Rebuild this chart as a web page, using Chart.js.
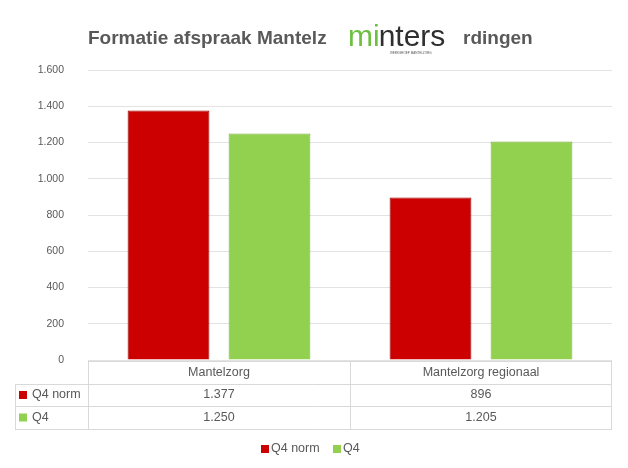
<!DOCTYPE html>
<html>
<head>
<meta charset="utf-8">
<script src="https://cdn.jsdelivr.net/npm/chart.js@4/dist/chart.umd.min.js"></script>
<style>
  html, body { margin: 0; padding: 0; background: #fff; }
  #wrap { width: 628px; height: 468px; position: relative; }
</style>
</head>
<body>
<div id="wrap"><canvas id="barChart" width="628" height="468"></canvas></div>
<script>
// data
var categories = ['Mantelzorg', 'Mantelzorg regionaal'];
var seriesNames = ['Q4 norm', 'Q4'];
var q4Norm = [1377, 896];
var q4 = [1250, 1205];
var seriesColors = ['#CC0000', '#92D050'];
var seriesEdges = ['#9A0000', '#76B23A'];
var yTicks = [0, 200, 400, 600, 800, 1000, 1200, 1400, 1600];

function fmt(n) {
    // punt als duizendtalscheiding
    return String(n).replace(/\B(?=(\d{3})+(?!\d))/g, '.');
}

var FONT = '"Liberation Sans", "DejaVu Sans", sans-serif';

function barFill(i) {
    return function (context) {
        var chart = context.chart;
        var el = context.element;
        if (!chart.chartArea || !el || el.x === undefined) return seriesColors[i];
        var w = el.width || 80;
        var g = chart.ctx.createLinearGradient(el.x - w / 2, 0, el.x + w / 2, 0);
        g.addColorStop(0, seriesEdges[i]);
        g.addColorStop(0.08, seriesColors[i]);
        g.addColorStop(0.92, seriesColors[i]);
        g.addColorStop(1, seriesEdges[i]);
        return g;
    };
}

// titel + tabel + legenda
var extras = {
    id: 'extras',
    afterDraw: function (chart) {
        var ctx = chart.ctx;
        var area = chart.chartArea;
        var x = chart.scales.x;
        ctx.save();

        // titel
        ctx.font = 'bold 19px ' + FONT;
        ctx.fillStyle = '#595959';
        ctx.textBaseline = 'middle';
        ctx.textAlign = 'left';
        ctx.fillText('Formatie afspraak Mantelz', 88, 39);
        ctx.fillText('rdingen', 463, 39);
        // logo
        ctx.font = '30px ' + FONT;
        ctx.fillStyle = '#6CBF3F';
        ctx.fillText('mi', 348, 38);
        var w = ctx.measureText('mi').width;
        ctx.fillStyle = '#2F2F2F';
        ctx.fillText('nters', 348 + w - 1, 38);
        ctx.font = '3px ' + FONT;
        ctx.fillStyle = '#555';
        ctx.fillText('WERKGROEP MANTELZORG', 390, 53);

        // datatabel
        var top = area.bottom + 1;
        var rows = [top, top + 23, top + 45, top + 68];
        var left = 15;
        var mid = (x.getPixelForValue(0) + x.getPixelForValue(1)) / 2;
        ctx.strokeStyle = '#D9D9D9';
        ctx.lineWidth = 1;
        ctx.beginPath();
        ctx.moveTo(area.left, rows[0] + 0.5); ctx.lineTo(area.right, rows[0] + 0.5);
        for (var r = 1; r < 4; r++) {
            ctx.moveTo(left, rows[r] + 0.5); ctx.lineTo(area.right, rows[r] + 0.5);
        }
        ctx.moveTo(area.left + 0.5, rows[0]); ctx.lineTo(area.left + 0.5, rows[3]);
        ctx.moveTo(Math.round(mid) + 0.5, rows[0]); ctx.lineTo(Math.round(mid) + 0.5, rows[3]);
        ctx.moveTo(area.right - 0.5, rows[0]); ctx.lineTo(area.right - 0.5, rows[3]);
        ctx.moveTo(left + 0.5, rows[1]); ctx.lineTo(left + 0.5, rows[3]);
        ctx.stroke();

        ctx.font = '12.5px ' + FONT;
        ctx.fillStyle = '#595959';
        ctx.textAlign = 'center';
        var cellCenters = [(area.left + mid) / 2, (mid + area.right) / 2];
        categories.forEach(function (c, i) {
            ctx.fillText(c, cellCenters[i], (rows[0] + rows[1]) / 2);
        });
        var vals = [q4Norm, q4];
        for (var s = 0; s < 2; s++) {
            var cy = (rows[s + 1] + rows[s + 2]) / 2;
            ctx.fillStyle = seriesColors[s];
            ctx.fillRect(left + 4, cy - 4, 8, 8);
            ctx.fillStyle = '#595959';
            ctx.textAlign = 'left';
            ctx.fillText(seriesNames[s], left + 17, cy);
            ctx.textAlign = 'center';
            for (var c = 0; c < categories.length; c++) {
                ctx.fillText(fmt(vals[s][c]), cellCenters[c], cy);
            }
        }

        // legenda
        var ly = 449;
        ctx.textAlign = 'left';
        ctx.fillStyle = seriesColors[0];
        ctx.fillRect(261, ly - 4, 8, 8);
        ctx.fillStyle = '#595959';
        ctx.fillText(seriesNames[0], 271, ly);
        ctx.fillStyle = seriesColors[1];
        ctx.fillRect(333, ly - 4, 8, 8);
        ctx.fillStyle = '#595959';
        ctx.fillText(seriesNames[1], 343, ly);

        ctx.restore();
    }
};

var ctx = document.getElementById('barChart').getContext('2d');
var myChart = new Chart(ctx, {
    type: 'bar',
    data: {
        labels: categories,
        datasets: [{
            label: seriesNames[0],
            data: q4Norm,
            backgroundColor: barFill(0),
            borderColor: seriesEdges[0],
            borderWidth: 1
        }, {
            label: seriesNames[1],
            data: q4,
            backgroundColor: barFill(1),
            borderColor: seriesEdges[1],
            borderWidth: 1
        }]
    },
    options: {
        responsive: false,
        animation: false,
        layout: { padding: { top: 70, right: 16, bottom: 100, left: 0 } },
        datasets: { bar: { categoryPercentage: 0.771, barPercentage: 0.81 } },
        plugins: {
            legend: { display: false },
            tooltip: { enabled: false },
            title: { display: false }
        },
        scales: {
            x: {
                ticks: { display: false },
                grid: { display: false },
                border: { display: false }
            },
            y: {
                min: 0,
                max: 1600,
                afterFit: function (scale) { scale.width = 88; },
                afterBuildTicks: function (scale) {
                    scale.ticks = yTicks.map(function (v) { return { value: v }; });
                },
                ticks: {
                    color: '#595959',
                    font: { family: FONT, size: 10.5 },
                    padding: 24,
                    callback: function (v) { return fmt(v); }
                },
                grid: { color: '#E3E3E3', drawTicks: false },
                border: { display: false }
            }
        }
    },
    plugins: [extras]
});
</script>
</body>
</html>
